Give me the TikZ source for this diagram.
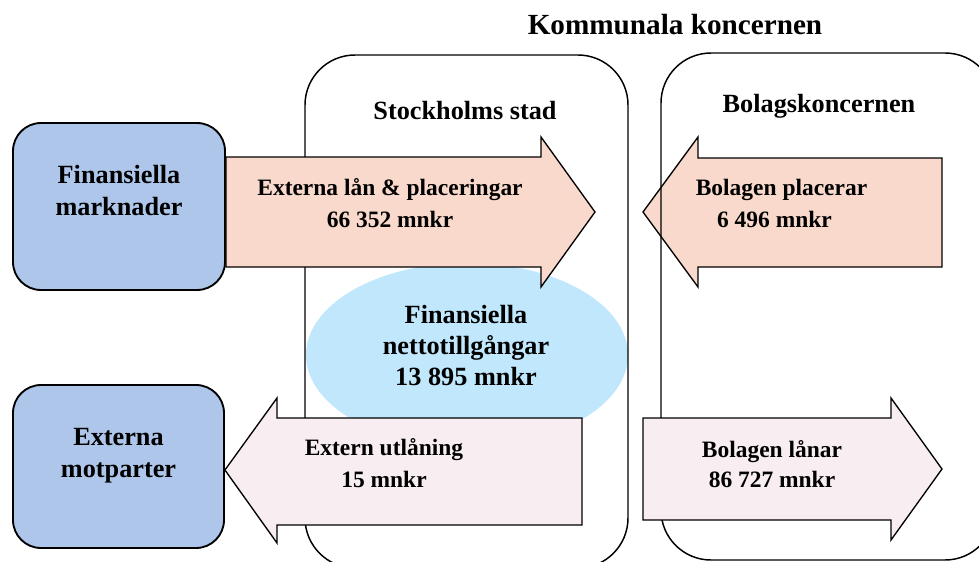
\documentclass[tikz,border=0pt]{standalone}
\usepackage{fontspec}
\setmainfont{Liberation Serif}
\usetikzlibrary{shapes.geometric,fit}
\definecolor{boxblue}{HTML}{ADC6EA}
\definecolor{peach}{HTML}{F8D9CC}
\definecolor{pinkish}{HTML}{F8EDF1}
\definecolor{ellblue}{HTML}{C0E7FC}
\begin{document}
\begin{tikzpicture}[x=0.75pt,y=-0.75pt,
  frame/.style={draw=black,line width=1.1pt,rounded corners=37.5pt,inner sep=0pt},
  bluebox/.style={draw=black,fill=boxblue,line width=1.4pt,rounded corners=21pt,inner sep=0pt},
  arrowshape/.style={draw=black,line width=1pt,line join=miter},
  headtext/.style={font=\bfseries\fontsize{19.7}{24}\selectfont,align=center,inner sep=0pt},
  titletext/.style={font=\bfseries\fontsize{21.9}{26}\selectfont,inner sep=0pt},
  arrowtext/.style={font=\bfseries\fontsize{17.6}{24}\selectfont,align=center,inner sep=0pt}]
\useasboundingbox (0,0) rectangle (979,561);

% ellipse (under the frame lines)
\node[ellipse,fill=ellblue,minimum width=241.5pt,minimum height=138pt,inner sep=0pt] (netto) at (467,355) {};

% arrow under the company frame line
\draw[arrowshape,fill=peach] (942,158) -- (698,158) -- (698,137) -- (643,212) -- (698,287) -- (698,267) -- (942,267) -- cycle;

% frames
\node[frame,fit={(305,55) (628,568)}] (stad) {};
\node[frame,fit={(661,53) (995,560)}] (bolag) {};

% blue boxes
\node[bluebox,fit={(13,123) (225,290)}] (fin) {};
\node[bluebox,fit={(13,385) (224,548)}] (ext) {};

% arrows
\draw[arrowshape,fill=peach] (fin.east |- 0,157) -- (541,157) -- (541,137) -- (595,212) -- (541,287) -- (541,267) -- (fin.east |- 0,267) -- cycle;
\draw[arrowshape,fill=pinkish] (582,418) -- (277,418) -- (277,398) -- (ext.east |- 0,470) -- (277,543) -- (277,525) -- (582,525) -- cycle;
\draw[arrowshape,fill=pinkish] (643,418) -- (891,418) -- (891,398) -- (942,469) -- (891,540) -- (891,520) -- (643,520) -- cycle;

% texts
\node[titletext] (title) at (675,25) {Kommunala koncernen};
\node[headtext] (stadlabel) at (465,111) {Stockholms stad};
\node[headtext] (bolaglabel) at (819,106.5) {Bolagskoncernen};
\node[headtext] (fintext) at (119,191) {Finansiella\\marknader};
\node[headtext] (exttext) at (118.5,455.5) {Externa\\motparter};
\node[headtext,font=\bfseries\fontsize{19.7}{23.6}\selectfont] (nettotext) at (466,345.5) {Finansiella\\nettotillgångar\\13 895 mnkr};
\node[arrowtext] (lan) at (390,203) {Externa lån \& placeringar\\66 352 mnkr};
\node[arrowtext] (plac) at (781.5,203) {Bolagen placerar\\\hspace*{-10.5pt}6 496 mnkr};
\node[arrowtext] (utl) at (384,463) {Extern utlåning\\15 mnkr};
\node[arrowtext,font=\bfseries\fontsize{17.6}{23}\selectfont] (bolan) at (772,464) {Bolagen lånar\\86 727 mnkr};
\end{tikzpicture}
\end{document}
